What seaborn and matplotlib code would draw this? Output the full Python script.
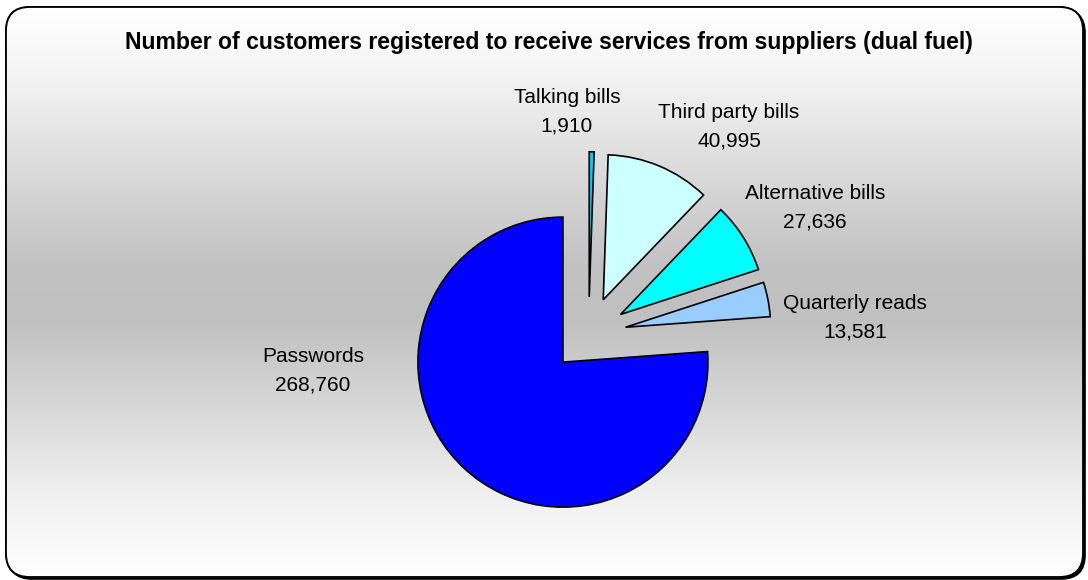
import numpy as np
import matplotlib
matplotlib.use("Agg")
import matplotlib.pyplot as plt
from matplotlib.patches import FancyBboxPatch
from matplotlib.colors import LinearSegmentedColormap
import seaborn as sns

# Customers registered for each supplier service (dual fuel)
services = ["Talking bills", "Third party bills", "Alternative bills", "Quarterly reads", "Passwords"]
customers = [1910, 40995, 27636, 13581, 268760]
slice_colors = ["#00CCFF", "#CCFFFF", "#00FFFF", "#99CCFF", "#0000FF"]

title = "Number of customers registered to receive services from suppliers (dual fuel)"

sns.set_theme(style="white")
plt.rcParams["font.family"] = ["Liberation Sans", "DejaVu Sans"]

W, H = 1088, 580
fig = plt.figure(figsize=(W / 100, H / 100), dpi=100)
fig.patch.set_facecolor("white")

# Full-figure axes in pixel units (y upward)
ax = fig.add_axes([0, 0, 1, 1])
ax.set_xlim(0, W)
ax.set_ylim(0, H)
ax.axis("off")

# Rounded chart area with drop shadow and vertical grey gradient
bx0, by0, bx1, by1 = 6, 3, 1083, 573
shadow = FancyBboxPatch((bx0 + 2, by0 - 2), bx1 - bx0, by1 - by0,
                        boxstyle="round,pad=0,rounding_size=24",
                        facecolor="black", edgecolor="black", lw=1.2, zorder=0)
ax.add_patch(shadow)
frame = FancyBboxPatch((bx0, by0), bx1 - bx0, by1 - by0,
                       boxstyle="round,pad=0,rounding_size=24",
                       facecolor="white", edgecolor="black", lw=1.3, zorder=1)
ax.add_patch(frame)

grad_cmap = LinearSegmentedColormap.from_list(
    "band", [(0.0, "#ffffff"), (0.12, "#f4f4f4"), (0.45, "#c2c2c2"),
             (0.55, "#c0c0c0"), (0.85, "#efefef"), (1.0, "#ffffff")])
grad = np.linspace(0, 1, 512).reshape(-1, 1)
img = ax.imshow(grad, cmap=grad_cmap, aspect="auto",
                extent=(bx0, bx1, by0, by1), origin="upper", zorder=1.5,
                interpolation="bilinear")
img.set_clip_path(frame)
border = FancyBboxPatch((bx0, by0), bx1 - bx0, by1 - by0,
                        boxstyle="round,pad=0,rounding_size=24",
                        facecolor="none", edgecolor="black", lw=1.3, zorder=2)
ax.add_patch(border)
ax.set_xlim(0, W)
ax.set_ylim(0, H)

ax.text(549, H - 42, title, ha="center", va="center", fontsize=16.6,
        fontweight="bold", color="black", zorder=5)

# Pie drawn in its own axes with unit radius
R_PX = 145.0
cx, cy = 588.6, H - 334.5
half = 250.0
pax = fig.add_axes([(cx - half) / W, (cy - half) / H, 2 * half / W, 2 * half / H])
pax.patch.set_alpha(0)
pax.pie(customers, colors=slice_colors, startangle=90, counterclock=False,
        explode=[0.26] * len(customers), radius=1.0,
        wedgeprops=dict(edgecolor="black", linewidth=1.2))
lim = half / R_PX
pax.set_xlim(-lim, lim)
pax.set_ylim(-lim, lim)
pax.set_aspect("equal")
pax.axis("off")

# Category labels with their values
label_pos = {
    "Talking bills": (567, 112),
    "Third party bills": (729, 127),
    "Alternative bills": (815, 208),
    "Quarterly reads": (855, 318),
    "Passwords": (313, 371),
}
for name, val in zip(services, customers):
    x, y = label_pos[name]
    ax.text(x, H - y, f"{name}\n{val:,}", ha="center", va="center",
            fontsize=15, linespacing=1.62, color="black", zorder=5)

fig.savefig("out.png", dpi=100, facecolor="white")
